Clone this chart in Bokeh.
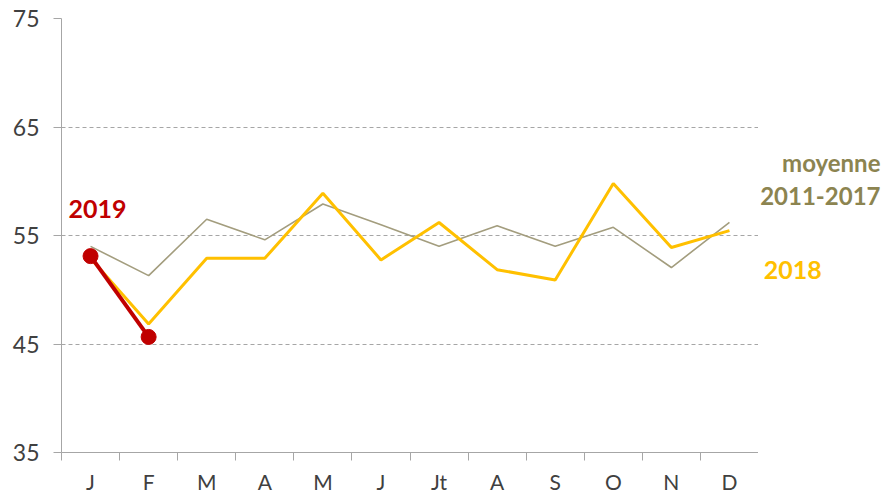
from bokeh.plotting import figure
from bokeh.layouts import row
from bokeh.models import FixedTicker, Range1d, Label, ColumnDataSource
from bokeh.embed import file_html
from bokeh.resources import INLINE

months = ["J", "F", "M", "A", "M", "J", "Jt", "A", "S", "O", "N", "D"]
moyenne = [54.0, 51.3, 56.5, 54.6, 57.9, 56.0, 54.0, 55.9, 54.0, 55.75, 52.05, 56.2]
y2018 = [52.9, 46.85, 52.9, 52.9, 58.9, 52.75, 56.2, 51.85, 50.9, 59.8, 53.9, 55.45]
y2019 = [53.1, 45.65]
y_ticks = [35, 45, 55, 65, 75]

xs = list(range(1, len(months) + 1))

FONT = "Lato"
AXIS_GRAY = "#a6a6a6"
TEXT = "#404040"
OLIVE_LINE = "#a39d7e"
OLIVE_TEXT = "#8c8450"
YELLOW = "#ffc000"
RED = "#c00000"

MAIN_W, SIDE_W, H = 758, 124, 496
TOP, BOTTOM, LEFT = 18, 44, 61

p = figure(width=MAIN_W, height=H, output_backend="svg", toolbar_location=None,
           x_range=Range1d(0.5, 12.5), y_range=Range1d(35, 75),
           min_border_left=LEFT, min_border_right=0, min_border_top=TOP,
           min_border_bottom=BOTTOM)
p.outline_line_color = None

# grid
p.xgrid.visible = False
p.ygrid.ticker = FixedTicker(ticks=y_ticks[1:])
p.ygrid.grid_line_color = AXIS_GRAY
p.ygrid.grid_line_dash = "4 3"
p.ygrid.grid_line_width = 1

# y axis
p.yaxis.ticker = FixedTicker(ticks=y_ticks)
p.yaxis.axis_line_color = AXIS_GRAY
p.yaxis.major_tick_line_color = AXIS_GRAY
p.yaxis.major_tick_out = 8
p.yaxis.major_tick_in = 0
p.yaxis.minor_tick_line_color = None
p.yaxis.major_label_standoff = 14
p.yaxis.major_label_text_font = FONT
p.yaxis.major_label_text_font_size = "23px"
p.yaxis.major_label_text_color = TEXT

# x axis: labels at month centres, ticks at boundaries
bounds = [x - 0.5 for x in xs] + [xs[-1] + 0.5]
p.xaxis.ticker = FixedTicker(ticks=xs, minor_ticks=bounds)
p.xaxis.major_label_overrides = {x: m for x, m in zip(xs, months)}
p.xaxis.axis_line_color = AXIS_GRAY
p.xaxis.major_tick_line_color = None
p.xaxis.major_tick_out = 0
p.xaxis.major_tick_in = 0
p.xaxis.minor_tick_line_color = AXIS_GRAY
p.xaxis.minor_tick_out = 8
p.xaxis.minor_tick_in = 0
p.xaxis.major_label_standoff = 8
p.xaxis.major_label_text_font = FONT
p.xaxis.major_label_text_font_size = "21px"
p.xaxis.major_label_text_color = TEXT

src_m = ColumnDataSource(dict(x=xs, y=moyenne))
src_18 = ColumnDataSource(dict(x=xs, y=y2018))
src_19 = ColumnDataSource(dict(x=xs[:len(y2019)], y=y2019))

p.line("x", "y", source=src_m, line_color=OLIVE_LINE, line_width=1.6)
p.line("x", "y", source=src_18, line_color=YELLOW, line_width=3)
p.line("x", "y", source=src_19, line_color=RED, line_width=4)
p.scatter("x", "y", source=src_19, size=15, fill_color=RED, line_color=RED)

# side panel for series labels that sit right of the plot area
unit = (MAIN_W - LEFT) / 12.0
side = figure(width=SIDE_W, height=H, output_backend="svg", toolbar_location=None,
              x_range=Range1d(12.5, 12.5 + SIDE_W / unit), y_range=p.y_range,
              x_axis_location=None, y_axis_location=None,
              min_border_left=0, min_border_right=0, min_border_top=TOP,
              min_border_bottom=BOTTOM)
side.outline_line_color = None
side.grid.visible = False


def lab(fig, x, y, text, color, align="left", size="25px"):
    fig.add_layout(Label(x=x, y=y, text=text, text_font=FONT, text_font_style="bold",
                         text_font_size=size, text_color=color, text_baseline="middle",
                         text_align=align))


lab(p, 0.62, 57.4, "2019", RED)
lab(side, 14.60, 61.7, "moyenne", OLIVE_TEXT, "right", "24px")
lab(side, 14.60, 58.6, "2011-2017", OLIVE_TEXT, "right", "24px")
lab(side, 12.59, 51.85, "2018", YELLOW)

layout = row(p, side, spacing=0)
open("out.html", "w").write(file_html(layout, INLINE))
